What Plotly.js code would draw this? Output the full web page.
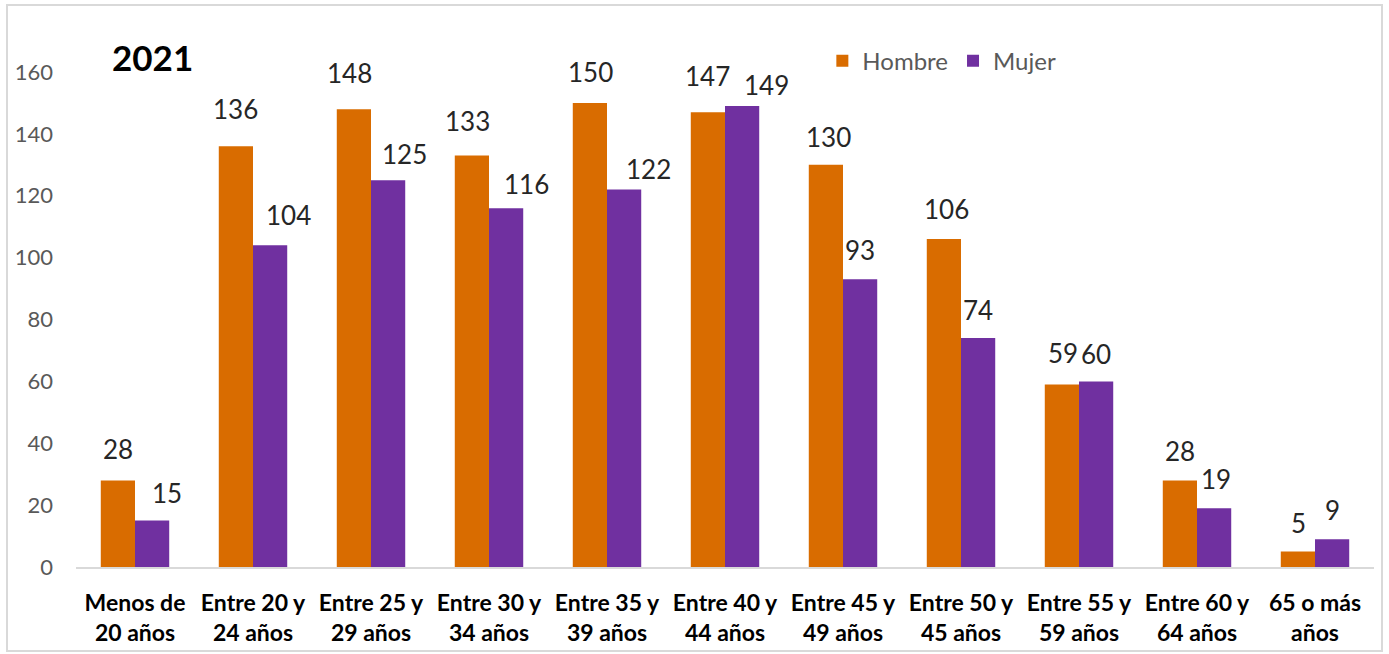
<!DOCTYPE html>
<html>
<head>
<meta charset="utf-8">
<script src="https://cdn.plot.ly/plotly-3.0.1.min.js"></script>
<style>
html,body{margin:0;padding:0;background:#fff;}
#chart{position:absolute;left:0;top:0;width:1389px;height:654px;}
#frame{position:absolute;left:6px;top:4px;width:1373px;height:644px;border:2px solid #d9d9d9;pointer-events:none;}
</style>
</head>
<body>
<div id="chart"></div>
<div id="frame"></div>
<script>
const categories = ["Menos de<br>20 años","Entre 20 y<br>24 años","Entre 25 y<br>29 años","Entre 30 y<br>34 años","Entre 35 y<br>39 años","Entre 40 y<br>44 años","Entre 45 y<br>49 años","Entre 50 y<br>45 años","Entre 55 y<br>59 años","Entre 60 y<br>64 años","65 o más<br>años"];
const hombre = [28,136,148,133,150,147,130,106,59,28,5];
const mujer = [15,104,125,116,122,149,93,74,60,19,9];
const yTicks = [0,20,40,60,80,100,120,140,160];
const chartTitle = "2021";

// label placement nudges (pixels), as manually placed in the original chart
const hombreNudgeX = [0,-1,-5,-5,0,-1,2,2,1,0,0];
const hombreGap    = [21,27,26,25,21,26,18,20,21,19,19];
const mujerNudgeX  = [15,18,16,20,24,24,0,0,0,2,0];
const mujerGap     = [18,20,16,14,11,11,19,18,17,19,19];

const fontFam = "Lato, 'Noto Sans', sans-serif";
const traces = [
  {type:'bar', name:'Hombre', x:categories, y:hombre, marker:{color:'#d96c00'}},
  {type:'bar', name:'Mujer', x:categories, y:mujer, marker:{color:'#7030a0'}}
];
const labelAnn = [];
[[hombre,-17,hombreNudgeX,hombreGap],[mujer,17,mujerNudgeX,mujerGap]].forEach(([arr,dx,nx,gp]) => {
  arr.forEach((v,i) => labelAnn.push({x:categories[i], y:v, xref:'x', yref:'y', text:String(v),
    showarrow:false, xanchor:'center', yanchor:'bottom', xshift:dx+nx[i], yshift:gp[i]-8,
    font:{size:26,color:'#262626',family:fontFam}}));
});
const layout = {
  width:1389, height:654,
  margin:{l:76,r:15,t:72,b:87},
  paper_bgcolor:'#fff', plot_bgcolor:'#fff',
  font:{family:fontFam},
  barmode:'group', bargap:0.42, bargroupgap:0,
  showlegend:true,
  legend:{orientation:'h', x:0.575, y:1.022, xanchor:'left', yanchor:'middle',
    font:{size:24,color:'#595959',family:fontFam}, bgcolor:'rgba(0,0,0,0)', itemwidth:30, traceorder:'normal'},
  xaxis:{type:'category', showline:true, linecolor:'#d9d9d9', linewidth:1.5, ticks:'',
    tickfont:{size:23,color:'#000',family:fontFam, weight:'bold'}, showgrid:false, zeroline:false,
    ticklabelstandoff:15},
  yaxis:{range:[0,160], tickvals:yTicks, showgrid:false, zeroline:false, showline:false, ticks:'',
    tickfont:{size:22,color:'#595959',family:fontFam}, ticklabelstandoff:22},
  annotations:[{text:'<b>'+chartTitle+'</b>', xref:'paper', yref:'paper', x:0.0265, y:1.03,
    xanchor:'left', yanchor:'middle', showarrow:false, font:{size:35,color:'#000',family:fontFam}}].concat(labelAnn)
};
Plotly.newPlot('chart', traces, layout, {displayModeBar:false, staticPlot:true});
</script>
</body>
</html>
